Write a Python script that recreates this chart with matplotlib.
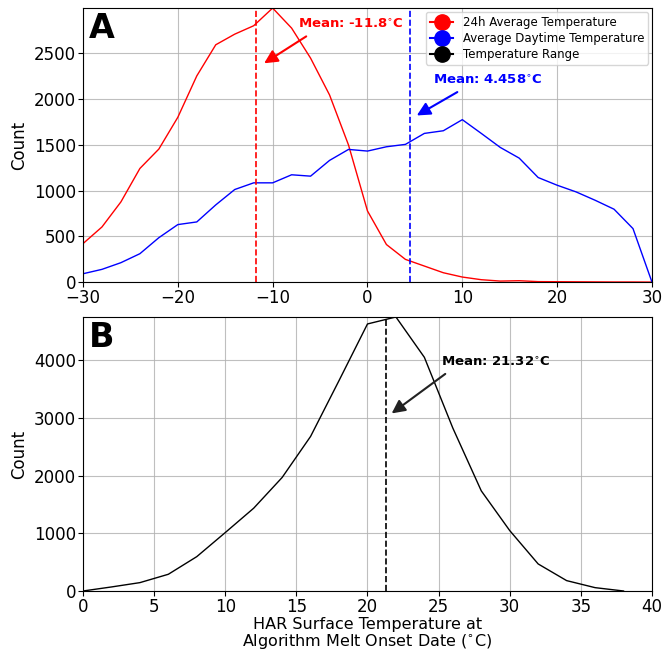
import matplotlib
matplotlib.use("Agg")
import matplotlib.pyplot as plt
from matplotlib.lines import Line2D

# --- Panel A data (2 degree bins)
temp_a = list(range(-30, 32, 2))
avg24_counts = [420, 602, 876, 1241, 1453, 1800, 2252, 2592, 2708, 2800, 2993,
                2774, 2446, 2044, 1497, 777, 410, 248, 175, 102, 55, 26, 11, 15,
                5, 4, 3, 2, 1, 1, 0]
daytime_counts = [91, 139, 212, 310, 485, 628, 657, 843, 1011, 1084, 1084,
                  1172, 1157, 1329, 1449, 1431, 1478, 1504, 1624, 1653, 1774,
                  1624, 1471, 1354, 1142, 1058, 985, 894, 796, 584, 0]
avg24_mean = -11.8
daytime_mean = 4.458

# --- Panel B data
temp_b = list(range(0, 40, 2))
range_counts = [0, 70, 145, 290, 596, 1013, 1436, 1969, 2681, 3650, 4632,
                4753, 4053, 2826, 1737, 1048, 469, 180, 58, 0]
range_mean = 21.32

legend_labels = ["24h Average Temperature", "Average Daytime Temperature", "Temperature Range"]
legend_colors = ["red", "blue", "black"]

fig = plt.figure(figsize=(6.65, 6.56), dpi=100)
ax1 = fig.add_axes([0.1248, 0.570, 0.8556, 0.4177])
ax2 = fig.add_axes([0.1248, 0.0991, 0.8556, 0.4177])

# --- Panel A
ax1.plot(temp_a, avg24_counts, color="red", lw=1)
ax1.plot(temp_a, daytime_counts, color="blue", lw=1)
ax1.axvline(avg24_mean, color="red", ls="--", lw=1.2)
ax1.axvline(daytime_mean, color="blue", ls="--", lw=1.2)
ax1.set_xlim(-30, 30)
ax1.set_ylim(0, max(avg24_counts))
ax1.set_xticks([-30, -20, -10, 0, 10, 20, 30])
ax1.set_yticks([0, 500, 1000, 1500, 2000, 2500])
ax1.grid(True, color="#b0b0b0", lw=0.8, alpha=0.8)
ax1.set_ylabel("Count", fontsize=12, labelpad=4)
ax1.tick_params(labelsize=12, pad=1.5)
ax1.text(0.01, 0.985, "A", transform=ax1.transAxes, fontsize=24,
         fontweight="bold", va="top", ha="left")

ax1.annotate("Mean: %s$^{\\circ}$C" % avg24_mean, xy=(-10.9, 2390), xytext=(-7.3, 2810),
             color="red", fontweight="bold", fontsize=9.5, va="center",
             arrowprops=dict(arrowstyle="-|>", color="red", lw=1.5, mutation_scale=20,
                             shrinkA=3, shrinkB=0, relpos=(0.15, 0.0)))
ax1.annotate("Mean: %s$^{\\circ}$C" % daytime_mean, xy=(5.2, 1820), xytext=(6.9, 2200),
             color="blue", fontweight="bold", fontsize=9.5, va="center",
             arrowprops=dict(arrowstyle="-|>", color="blue", lw=1.5, mutation_scale=20,
                             shrinkA=3, shrinkB=0, relpos=(0.3, 0.0)))

handles = [Line2D([0], [0], color=c, marker="o", markersize=11) for c in legend_colors]
ax1.legend(handles, legend_labels, loc="upper right", fontsize=8.5,
           handlelength=2, borderaxespad=0.3, labelspacing=0.25, borderpad=0.35)

# --- Panel B
ax2.plot(temp_b, range_counts, color="black", lw=1)
ax2.axvline(range_mean, color="black", ls="--", lw=1.2)
ax2.set_xlim(0, 40)
ax2.set_ylim(0, max(range_counts))
ax2.set_xticks(range(0, 45, 5))
ax2.set_yticks([0, 1000, 2000, 3000, 4000])
ax2.grid(True, color="#b0b0b0", lw=0.8, alpha=0.8)
ax2.set_ylabel("Count", fontsize=12, labelpad=4)
ax2.set_xlabel("HAR Surface Temperature at\nAlgorithm Melt Onset Date ($^{\\circ}$C)",
               fontsize=11.5, labelpad=0.5, linespacing=1.0)
ax2.tick_params(labelsize=12, pad=1.5)
ax2.text(0.01, 0.985, "B", transform=ax2.transAxes, fontsize=24,
         fontweight="bold", va="top", ha="left")
ax2.annotate("Mean: %s$^{\\circ}$C" % range_mean, xy=(21.7, 3080), xytext=(25.2, 3970),
             color="black", fontweight="bold", fontsize=9.5, va="center",
             arrowprops=dict(arrowstyle="-|>", color="#222222", lw=1.5, mutation_scale=20,
                             shrinkA=3, shrinkB=0, relpos=(0.1, 0.0)))

fig.savefig("out.png", dpi=100)
